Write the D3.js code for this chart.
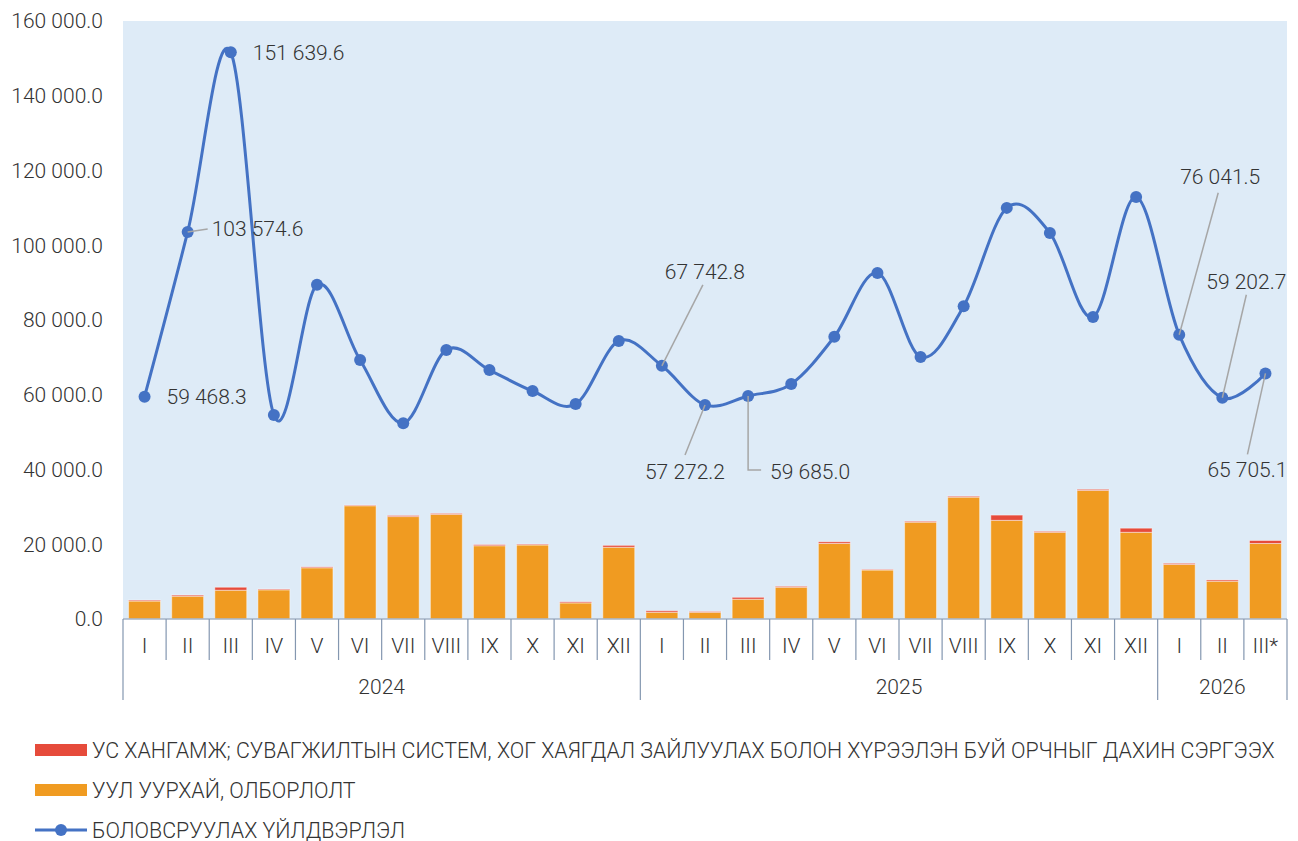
<!DOCTYPE html>
<html>
<head>
<meta charset="utf-8">
<script src="https://cdn.jsdelivr.net/npm/d3@7"></script>
<style>
  body { margin: 0; background: #fff; }
  svg text { font-family: Roboto, "Noto Sans", sans-serif; font-weight: 300; fill: #333; }
</style>
</head>
<body>
<div id="chart"></div>
<script>
// months and years
const months = ["I","II","III","IV","V","VI","VII","VIII","IX","X","XI","XII",
                "I","II","III","IV","V","VI","VII","VIII","IX","X","XI","XII",
                "I","II","III*"];
const years = [{label: "2024", n: 12}, {label: "2025", n: 12}, {label: "2026", n: 3}];

// mining (orange bars)
const mining = [4800, 6100, 7700, 7800, 13700, 30300, 27400, 28000, 19600, 19800, 4300, 19200,
                1800, 1800, 5300, 8500, 20200, 13100, 25900, 32600, 26400, 23200, 34400, 23200,
                14600, 10100, 20200];
// water supply (red bars, stacked)
const water = [250, 300, 800, 200, 250, 150, 300, 250, 300, 200, 300, 500,
               400, 200, 500, 250, 450, 150, 250, 250, 1400, 250, 300, 1100,
               300, 350, 800];
// manufacturing (line)
const manuf = [59468.3, 103574.6, 151639.6, 54600, 89400, 69300, 52400, 72000, 66600, 61000, 57500, 74400,
               67742.8, 57272.2, 59685.0, 62900, 75500, 92600, 70100, 83700, 110000, 103300, 80800, 112900,
               76041.5, 59202.7, 65705.1];

const yTicks = [0, 20000, 40000, 60000, 80000, 100000, 120000, 140000, 160000];

const legendNames = [
  "УС ХАНГАМЖ; СУВАГЖИЛТЫН СИСТЕМ, ХОГ ХАЯГДАЛ ЗАЙЛУУЛАХ БОЛОН ХҮРЭЭЛЭН БУЙ ОРЧНЫГ ДАХИН СЭРГЭЭХ",
  "УУЛ УУРХАЙ, ОЛБОРЛОЛТ",
  "БОЛОВСРУУЛАХ ҮЙЛДВЭРЛЭЛ"
];

// which points get a label, and where it sits relative to the point
const labelled = [
  {i: 0, dx: 62, dy: 0, anchor: "middle"},
  {i: 1, dx: 24, dy: -3, anchor: "start", lead: [[0,0],[20,-3]]},
  {i: 2, dx: 22, dy: 0, anchor: "start"},
  {i: 12, dx: 43, dy: -94, anchor: "middle", lead: [[0,0],[41,-81]]},
  {i: 13, dx: -20, dy: 67, anchor: "middle", lead: [[0,0],[-20,50]]},
  {i: 14, dx: 22, dy: 76, anchor: "start", lead: [[0,0],[0,74],[13,74]]},
  {i: 24, dx: 41, dy: -158, anchor: "middle", lead: [[0,0],[39,-142]]},
  {i: 25, dx: 24, dy: -116, anchor: "middle", lead: [[0,0],[24,-103]]},
  {i: 26, dx: -18, dy: 96, anchor: "middle", lead: [[0,0],[-18,81]]}
];

const width = 1298, height = 841;
const margin = {top: 21, left: 123, right: 11, bottom: 222};
const innerW = width - margin.left - margin.right;
const innerH = height - margin.top - margin.bottom;

const colors = {water: "#E64B3B", mining: "#F09B21", line: "#4472C4", bg: "#DEEBF7", grid: "#8497B0"};

const svg = d3.select("#chart").append("svg")
  .attr("width", width).attr("height", height);
const g = svg.append("g").attr("transform", "translate(" + margin.left + "," + margin.top + ")");

let x = d3.scaleBand().domain(d3.range(months.length)).range([0, innerW]).paddingInner(0.26).paddingOuter(0.13);
let y = d3.scaleLinear().domain([0, 160000]).range([innerH, 0]);

g.append("rect").attr("width", innerW).attr("height", innerH).attr("fill", colors.bg);

// y axis labels
const fmt = v => d3.format(",.1f")(v).replace(/,/g, " ");
g.selectAll(".ytick").data(yTicks).enter().append("text")
  .attr("class", "ytick")
  .attr("x", -20).attr("y", d => y(d)).attr("dy", "0.35em")
  .attr("text-anchor", "end").style("font-size", "21px")
  .text(fmt);

// stacked bars
const stackData = mining.map((m, i) => ({i: i, mining: m, water: water[i]}));
const stacked = d3.stack().keys(["mining", "water"])(stackData);
g.selectAll(".layer").data(stacked).enter().append("g")
  .attr("fill", d => colors[d.key])
  .selectAll("rect").data(d => d).enter().append("rect")
  .attr("x", d => x(d.data.i))
  .attr("width", x.bandwidth())
  .attr("y", d => y(d[1]))
  .attr("height", d => y(d[0]) - y(d[1]))
  .attr("stroke", "#fff").attr("stroke-opacity", 0.45).attr("stroke-width", 1);

// x axis: table style
const step = innerW / months.length;
const axisG = g.append("g").attr("transform", "translate(0," + innerH + ")");
axisG.append("line").attr("x1", 0).attr("x2", innerW).attr("stroke", "#A5B3C6").attr("stroke-width", 1.5);
const yearStarts = [];
let acc = 0;
years.forEach(yr => { yearStarts.push(acc); acc += yr.n; });
yearStarts.push(acc);
axisG.selectAll(".mtick").data(d3.range(months.length + 1)).enter().append("line")
  .attr("x1", d => d * step).attr("x2", d => d * step)
  .attr("y1", 0).attr("y2", d => yearStarts.includes(d) ? 81 : 41)
  .attr("stroke", colors.grid).attr("stroke-width", 1.2);
axisG.selectAll(".mlabel").data(months).enter().append("text")
  .attr("x", (d, i) => (i + 0.5) * step).attr("y", 27).attr("dy", "0.35em")
  .attr("text-anchor", "middle").style("font-size", "21px")
  .text(d => d);
axisG.selectAll(".ylabel").data(years).enter().append("text")
  .attr("x", (d, i) => (yearStarts[i] + d.n / 2) * step).attr("y", 68).attr("dy", "0.35em")
  .attr("text-anchor", "middle").style("font-size", "21px")
  .text(d => d.label);

// line
const cx = i => x(i) + x.bandwidth() / 2;
const line = d3.line().curve(d3.curveCatmullRom.alpha(0)).x((d, i) => cx(i)).y(d => y(d));
g.append("path").datum(manuf).attr("d", line)
  .attr("fill", "none").attr("stroke", colors.line).attr("stroke-width", 3);
g.selectAll(".dot").data(manuf).enter().append("circle")
  .attr("cx", (d, i) => cx(i)).attr("cy", d => y(d)).attr("r", 6)
  .attr("fill", colors.line);

// data labels with leader lines
labelled.forEach(l => {
  const px = cx(l.i), py = y(manuf[l.i]);
  if (l.lead) {
    g.append("path")
      .attr("d", d3.line()(l.lead.map(p => [px + p[0], py + p[1]])))
      .attr("fill", "none").attr("stroke", "#A6A6A6").attr("stroke-width", 1.5);
  }
  g.append("text")
    .attr("x", px + l.dx).attr("y", py + l.dy).attr("dy", "0.35em")
    .attr("text-anchor", l.anchor).style("font-size", "21px")
    .text(fmt(manuf[l.i]));
});

// legend
const leg = svg.append("g").attr("transform", "translate(35,750)");
legendNames.forEach((name, i) => {
  const row = leg.append("g").attr("transform", "translate(0," + (i * 40) + ")");
  if (i < 2) {
    row.append("rect").attr("x", 0).attr("y", -6).attr("width", 52).attr("height", 12)
      .attr("fill", i === 0 ? colors.water : colors.mining);
  } else {
    row.append("line").attr("x1", 0).attr("x2", 52).attr("stroke", colors.line).attr("stroke-width", 3);
    row.append("circle").attr("cx", 26).attr("r", 6).attr("fill", colors.line);
  }
  row.append("text").attr("x", 57).attr("dy", "0.35em").style("font-size", "21.4px").text(name);
});
</script>
</body>
</html>
